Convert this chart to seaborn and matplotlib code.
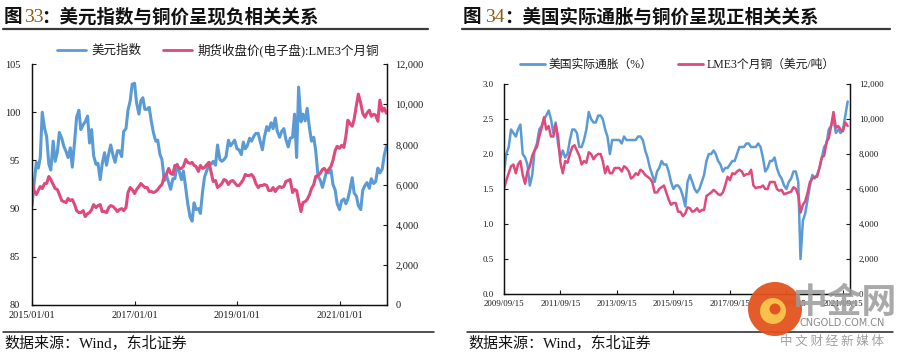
import numpy as np
import pandas as pd
import matplotlib
matplotlib.use("Agg")
import matplotlib.pyplot as plt
import seaborn as sns
from matplotlib.lines import Line2D
from matplotlib.patches import Circle
from matplotlib.ticker import FuncFormatter

# ---------------- data: chart 33 (semi-monthly, from 2015-01-01) ----------------
dxy_start = "2015-01-01"
dxy = [
    90.3, 92.5, 94.8, 94.2, 95.3, 100.0, 98.3, 97.5, 94.6, 94.0, 97.0, 94.9,
    95.9, 97.9, 97.3, 96.5, 95.9, 95.3, 96.3, 94.3, 97.0, 99.5, 100.2, 98.2,
    98.7, 99.0, 99.6, 96.8, 98.2, 95.5, 94.6, 94.7, 93.0, 94.6, 95.8, 94.5,
    95.7, 96.6, 95.5, 94.8, 96.0, 96.0, 95.4, 98.0, 98.3, 100.2, 101.2, 102.9,
    103.0, 101.0, 99.8, 101.2, 101.5, 100.3, 100.3, 100.5, 99.0, 97.9, 97.0, 97.1,
    95.6, 95.1, 92.9, 93.5, 92.7, 92.0, 93.1, 93.1, 94.6, 93.9, 93.0, 93.9,
    92.1, 90.5, 89.1, 88.7, 90.6, 89.9, 90.0, 89.5, 91.8, 93.3, 94.0, 94.8,
    94.6, 94.9, 94.5, 96.6, 95.1, 94.9, 95.1, 95.4, 97.1, 96.5, 96.8, 97.1,
    96.2, 96.1, 95.6, 96.9, 96.2, 96.5, 97.3, 97.0, 97.5, 97.8, 97.8, 97.0,
    96.1, 97.4, 98.5, 98.1, 98.9, 98.3, 99.4, 98.0, 97.4, 98.0, 98.3, 97.2,
    96.4, 97.3, 97.4, 99.8, 95.3, 102.6, 99.0, 99.8, 99.1, 100.4, 98.3, 97.0,
    97.4, 96.0, 93.3, 93.0, 92.2, 93.0, 93.9, 93.7, 94.0, 92.5, 91.9, 90.5,
    89.9, 90.8, 91.0, 90.5, 91.0, 91.9, 93.2, 91.6, 91.3, 90.3, 89.9, 91.9,
    92.4, 92.7, 92.1, 93.1, 92.6, 92.8, 94.2, 93.7, 94.1, 95.5, 96.5,
]
cu1_start = "2015-01-01"
cu1 = [
    6300, 5700, 5500, 5700, 5900, 5800, 6050, 6050, 6400, 6250, 6000, 5800,
    5750, 5500, 5200, 5150, 5100, 5300, 5200, 5250, 5000, 4700, 4600, 4600,
    4700, 4400, 4550, 4600, 4750, 5000, 4850, 4950, 5000, 4650, 4650, 4600,
    4850, 4950, 4900, 4800, 4650, 4750, 4800, 4700, 4850, 5600, 5850, 5750,
    5550, 5750, 5900, 6050, 5950, 5850, 5850, 5650, 5650, 5600, 5650, 5750,
    5900, 6000, 6400, 6500, 6800, 6550, 6500, 6950, 6950, 6800, 6800, 6900,
    7250, 7100, 7050, 7100, 6950, 6900, 6650, 6950, 6800, 6850, 7000, 7100,
    6600, 6150, 6200, 5850, 5950, 6050, 6250, 6200, 6000, 6150, 6200, 6100,
    5950, 5950, 6100, 6250, 6500, 6450, 6450, 6500, 6350, 6050, 5850, 5950,
    5950, 6000, 5950, 5700, 5700, 5850, 5650, 5800, 5900, 5850, 5900, 6150,
    6200, 6250, 5600, 5750, 5700, 5200, 4650, 5100, 5150, 5250, 5500, 5800,
    6000, 6400, 6450, 6550, 6750, 6800, 6600, 6750, 6900, 7200, 7700, 7900,
    7800, 7950, 7850, 8400, 9200, 9050, 8900, 9250, 9950, 10500, 10050, 9550,
    9350, 9550, 9700, 9400, 9500, 9450, 9150, 10200, 9650, 9800, 9550,
]
x1_ticklabels = ["2015/01/01", "2017/01/01", "2019/01/01", "2021/01/01"]
y1_left_ticks = [80, 85, 90, 95, 100, 105]
y1_right_ticks = [0, 2000, 4000, 6000, 8000, 10000, 12000]
legend1 = ["美元指数", "期货收盘价(电子盘):LME3个月铜"]

# ---------------- data: chart 34 (monthly, from 2009-09-15) ----------------
bei_start = "2009-09-15"
bei = [
    1.75, 2.0, 2.1, 2.35,
    2.3, 2.25, 2.35, 2.42, 2.0, 1.95, 1.85, 1.55, 1.7, 2.05, 2.15, 2.35,
    2.4, 2.5, 2.55, 2.62, 2.5, 2.3, 2.45, 2.15, 1.95, 2.05, 1.95, 2.0,
    2.2, 2.35, 2.35, 2.3, 2.1, 2.1, 2.2, 2.35, 2.6, 2.5, 2.45, 2.45,
    2.55, 2.55, 2.5, 2.35, 2.25, 2.0, 2.2, 2.2, 2.2, 2.2, 2.15, 2.25,
    2.2, 2.2, 2.2, 2.2, 2.2, 2.25, 2.25, 2.2, 2.05, 1.95, 1.8, 1.7,
    1.6, 1.75, 1.8, 1.9, 1.85, 1.85, 1.75, 1.6, 1.5, 1.55, 1.55, 1.5,
    1.4, 1.25, 1.6, 1.7, 1.6, 1.5, 1.45, 1.5, 1.6, 1.7, 1.9, 2.0,
    2.0, 2.05, 2.0, 1.9, 1.85, 1.75, 1.8, 1.8, 1.85, 1.9, 1.9, 2.0,
    2.1, 2.1, 2.1, 2.15, 2.15, 2.1, 2.1, 2.1, 2.15, 2.1, 1.95, 1.75,
    1.8, 1.9, 1.9, 1.95, 1.8, 1.7, 1.65, 1.55, 1.5, 1.6, 1.65, 1.75,
    1.75, 1.6, 0.5, 1.05, 1.15, 1.35, 1.55, 1.7, 1.65, 1.7, 1.8, 1.95,
    2.1, 2.15, 2.35, 2.4, 2.5, 2.3, 2.35, 2.3, 2.35, 2.55, 2.75,
]
cu2_start = "2009-09-15"
cu2 = [
    6000, 6500, 6900, 7300,
    7400, 6900, 7400, 7600, 6800, 6300, 7000, 7300, 7900, 8200, 8400, 9000,
    9500, 10100, 9400, 9600, 9000, 9000, 9700, 9000, 7500, 6900, 7600, 7500,
    8000, 8400, 8500, 8200, 7900, 7400, 7600, 7500, 8100, 8000, 7700, 7900,
    8000, 8000, 7600, 6900, 7300, 6900, 6900, 7200, 7200, 7200, 7000, 7300,
    7200, 7000, 6600, 6700, 6900, 6800, 7100, 7000, 6800, 6700, 6600, 6400,
    5800, 5800, 6000, 6100, 6200, 5800, 5400, 5100, 5200, 5200, 4700, 4700,
    4450, 4600, 4950, 4900, 4700, 4750, 4900, 4700, 4800, 4800, 5600, 5700,
    5800, 5950, 5850, 5700, 5650, 5800, 6200, 6700, 6500, 6900, 6850, 7000,
    7100, 7000, 6750, 6850, 6850, 7100, 6200, 6050, 6100, 6100, 6200, 6000,
    6000, 6400, 6400, 6400, 6000, 5900, 5950, 5700, 5750, 5800, 5850, 6100,
    6000, 5650, 4650, 5100, 5300, 5800, 6400, 6600, 6700, 6700, 7200, 7800,
    7900, 8700, 8900, 9600, 10400, 9500, 9600, 9400, 9300, 9800, 9600,
]
x2_ticklabels = ["2009/09/15", "2011/09/15", "2013/09/15", "2015/09/15",
                 "2017/09/15", "2019/09/15", "2021/09/15"]
y2_left_ticks = [0.0, 0.5, 1.0, 1.5, 2.0, 2.5, 3.0]
y2_right_ticks = [0, 2000, 4000, 6000, 8000, 10000, 12000]
legend2 = ["美国实际通胀（%）", "LME3个月铜（美元/吨）"]

titles = [("图 ", "33", "：美元指数与铜价呈现负相关关系"),
          ("图 ", "34", "：美国实际通胀与铜价呈现正相关关系")]
source_text = "数据来源：Wind，东北证券"

# ---------------- style ----------------
sns.set_style("white")
plt.rcParams['font.family'] = ['Liberation Serif', 'Noto Sans CJK SC', 'DejaVu Sans']
plt.rcParams['axes.unicode_minus'] = False

W, H = 904, 356
fig = plt.figure(figsize=(W / 100, H / 100), dpi=100)
fig.patch.set_facecolor("white")


def fx(x):
    return x / W


def fy(y):
    return 1 - y / H


BLUE = "#5B9BD5"
RED = "#DE4A7B"
TXT = "#1a1a1a"
comma = FuncFormatter(lambda v, p: f"{v:,.0f}")


def style_axes(ax, axr, lsize, lpad, rpad, xpad):
    for a in (ax, axr):
        a.spines['top'].set_visible(False)
        for s in ('left', 'right', 'bottom'):
            a.spines[s].set_color('#111111')
            a.spines[s].set_linewidth(0.9)
        a.set_xlabel('')
        a.set_ylabel('')
    ax.tick_params(axis='y', which='both', direction='in', left=True, right=False,
                   length=3, width=0.8, pad=lpad, labelsize=lsize, colors=TXT)
    ax.tick_params(axis='x', direction='in', bottom=True, length=3, width=0.8,
                   pad=xpad, labelsize=lsize, colors=TXT)
    axr.tick_params(axis='y', direction='in', right=True, left=False, length=3,
                    width=0.8, pad=rpad, labelsize=lsize, colors=TXT)
    axr.yaxis.set_major_formatter(comma)


# ---------------- chart 33 ----------------
d_dxy = pd.date_range(dxy_start, periods=len(dxy), freq="SMS")
d_cu1 = pd.date_range(cu1_start, periods=len(cu1), freq="SMS")

ax1 = fig.add_axes([fx(32), fy(305), (387 - 32) / W, (305 - 64) / H])
sns.lineplot(x=d_dxy, y=dxy, ax=ax1, color=BLUE, lw=2.2)
ax1r = ax1.twinx()
sns.lineplot(x=d_cu1, y=cu1, ax=ax1r, color=RED, lw=2.2)
ax1.set_xlim(pd.Timestamp("2015-01-01"), pd.Timestamp("2021-12-05"))
ax1.set_ylim(min(y1_left_ticks), max(y1_left_ticks))
ax1.set_yticks(y1_left_ticks)
ax1r.set_ylim(min(y1_right_ticks), max(y1_right_ticks))
ax1r.set_yticks(y1_right_ticks)
ax1.set_xticks(pd.to_datetime(x1_ticklabels, format="%Y/%m/%d"))
ax1.set_xticklabels(x1_ticklabels)
style_axes(ax1, ax1r, 7.4, 8.5, 6, 4.5)

h = [Line2D([], [], color=BLUE, lw=2), Line2D([], [], color=RED, lw=2)]
fig.legend(h, legend1, loc="center", bbox_to_anchor=(fx(218), fy(50)), ncol=2,
           frameon=False, fontsize=9, handlelength=2.3, handletextpad=0.4,
           columnspacing=1.8, labelcolor=TXT)

# ---------------- chart 34 ----------------
d_bei = pd.date_range(bei_start, periods=len(bei), freq=pd.DateOffset(months=1))
d_cu2 = pd.date_range(cu2_start, periods=len(cu2), freq=pd.DateOffset(months=1))

ax2 = fig.add_axes([fx(504), fy(294), (850 - 504) / W, (294 - 84) / H])
sns.lineplot(x=d_bei, y=bei, ax=ax2, color=BLUE, lw=1.8)
ax2r = ax2.twinx()
sns.lineplot(x=d_cu2, y=cu2, ax=ax2r, color=RED, lw=1.8)
ax2.set_xlim(pd.Timestamp("2009-09-15"), pd.Timestamp("2021-12-15"))
ax2.set_ylim(min(y2_left_ticks), max(y2_left_ticks))
ax2.set_yticks(y2_left_ticks)
ax2.yaxis.set_major_formatter(FuncFormatter(lambda v, p: f"{v:.1f}"))
ax2r.set_ylim(min(y2_right_ticks), max(y2_right_ticks))
ax2r.set_yticks(y2_right_ticks)
ax2.set_xticks(pd.to_datetime(x2_ticklabels, format="%Y/%m/%d"))
ax2.set_xticklabels(x2_ticklabels)
style_axes(ax2, ax2r, 6.4, 7.5, 6.5, 4.5)

fig.legend(h, legend2, loc="center", bbox_to_anchor=(fx(677), fy(65)), ncol=2,
           frameon=False, fontsize=8.5, handlelength=2.1, handletextpad=0.3,
           columnspacing=2.2, labelcolor=TXT)

# ---------------- titles, rules, sources ----------------
cjk_bold = dict(family=['Noto Sans CJK SC'], weight='bold', fontsize=13.3, color='#111111')
for (a, num, rest), x0, xn, xr in [(titles[0], 4, 24, 41), (titles[1], 463, 485, 504)]:
    fig.text(fx(x0), fy(17), a.strip(), va='center', ha='left', **cjk_bold)
    fig.text(fx(xn), fy(17), num, va='center', ha='left', family=['Liberation Serif'],
             fontsize=14, color='#8A5A12')
    fig.text(fx(xr), fy(17), rest, va='center', ha='left', **cjk_bold)

for x0, x1 in [(3, 428), (462, 890)]:
    fig.add_artist(Line2D([fx(x0), fx(x1)], [fy(28.5), fy(28.5)], color='#3a3a3a', lw=1.6))
for x0, x1 in [(3, 434), (467, 893)]:
    fig.add_artist(Line2D([fx(x0), fx(x1)], [fy(332), fy(332)], color='#222222', lw=1.1))
for x0 in (4, 468):
    fig.text(fx(x0), fy(343), source_text, va='center', ha='left', fontsize=10.8,
             color='#111111', family=['Liberation Serif', 'Noto Sans CJK SC'])

# ---------------- watermark ----------------
circ = Circle((7.75, (H - 309) / 100), 0.27, transform=fig.dpi_scale_trans,
              facecolor='#E4531F', edgecolor='none', zorder=5, alpha=0.95)
fig.add_artist(circ)
fig.add_artist(Circle((7.73, (H - 311) / 100), 0.13, transform=fig.dpi_scale_trans,
                      facecolor='#F7C04A', edgecolor='none', zorder=6))
fig.add_artist(Circle((7.75, (H - 309) / 100), 0.055, transform=fig.dpi_scale_trans,
                      facecolor='#E4531F', edgecolor='none', zorder=7))
fig.text(fx(845), fy(302), "中金网", ha='center', va='center', fontsize=25,
         family=['Noto Sans CJK SC'], weight='bold', color='#9a9a9a', alpha=0.85, zorder=8)
fig.text(fx(842), fy(323), "CNGOLD.COM.CN", ha='center', va='center', fontsize=7,
         family=['DejaVu Sans'], color='#8a8a8a', zorder=8)
fig.text(fx(832), fy(341), "中 文 财 经 新 媒 体", ha='center', va='center', fontsize=9,
         family=['Noto Sans CJK SC'], color='#a0a0a0', zorder=8)

fig.savefig("out.png", dpi=100, facecolor="white")
